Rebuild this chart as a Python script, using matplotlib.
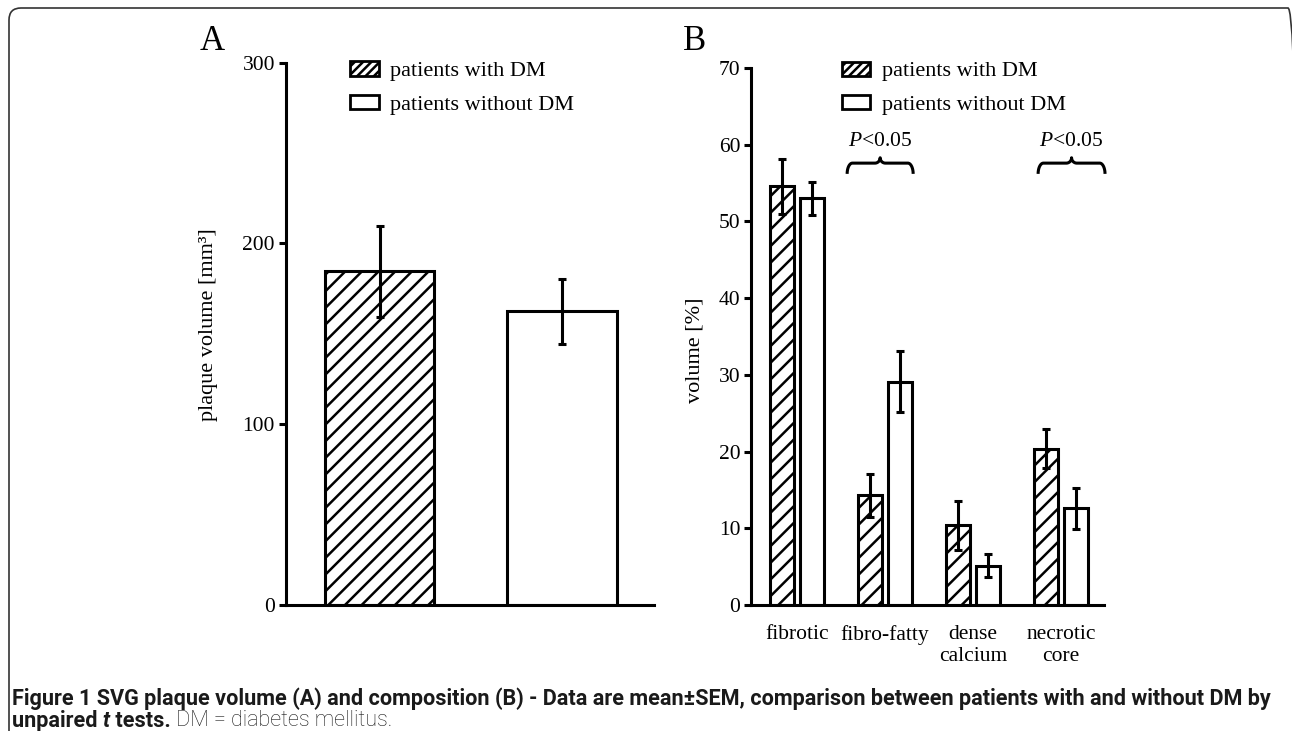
import numpy as np
import matplotlib
matplotlib.use("Agg")
import matplotlib.pyplot as plt
from matplotlib.patches import Patch, FancyBboxPatch

# Datos del panel A: volumen de placa (media y SEM)
vol_groups = ["patients with DM", "patients without DM"]
vol_mean = [184.5, 162.5]
vol_sem = [25.0, 18.0]

# Datos del panel B: composicion de la placa en %
comp_cats = ["fibrotic", "fibro-fatty", "dense\ncalcium", "necrotic\ncore"]
comp_dm = [54.6, 14.3, 10.4, 20.4]
comp_dm_sem = [3.6, 2.8, 3.2, 2.6]
comp_nodm = [53.0, 29.1, 5.1, 12.6]
comp_nodm_sem = [2.1, 4.0, 1.5, 2.7]

# llaves de significacion
brace_x0 = [0.57, 2.74]
brace_x1 = [1.32, 3.50]
brace_y = 57.6
brace_txt = ["$\\it{P}$<0.05", "$\\it{P}$<0.05"]

plt.rcParams['font.family'] = ['Liberation Serif', 'DejaVu Serif']
plt.rcParams['mathtext.fontset'] = 'custom'
plt.rcParams['mathtext.it'] = 'Liberation Serif:italic'
plt.rcParams['mathtext.rm'] = 'Liberation Serif'
plt.rcParams['hatch.linewidth'] = 1.8

LW = 2.2
fig = plt.figure(figsize=(12.92, 7.31), dpi=100)

def style_axes(ax):
    for s in ['top', 'right']:
        ax.spines[s].set_visible(False)
    for s in ['left', 'bottom']:
        ax.spines[s].set_linewidth(LW)
    ax.tick_params(axis='y', direction='out', length=5, width=LW, labelsize=15.5, pad=3)
    ax.tick_params(axis='x', length=0, labelsize=15.5, pad=14.5)

def brace(ax, x0, x1, y, h=1.4, tip=0.7):
    # llave horizontal dibujada con cuartos de circulo
    xm = (x0 + x1) / 2
    r = 0.06
    t = np.linspace(0, np.pi / 2, 20)
    xs, ys = [], []
    xs += list(x0 + r - r * np.cos(t)); ys += list(y - h + h * np.sin(t))
    xs += [xm - r]; ys += [y]
    xs += list(xm - r + r * np.sin(t)); ys += list(y + tip * (1 - np.cos(t)))
    xs += list(xm + r - r * np.cos(t)); ys += list(y + tip - tip * np.sin(t))
    xs += [x1 - r]; ys += [y]
    xs += list(x1 - r + r * np.sin(t)); ys += list(y - h * (1 - np.cos(t)))
    ax.plot(xs, ys, color='black', lw=LW, solid_capstyle='butt', clip_on=False)

# ---- Panel A ----
axA = fig.add_axes([286 / 1292, 1 - 605 / 731, 368 / 1292, 542.5 / 731])
xa = np.array([0, 1.674])
axA.bar(xa[0], vol_mean[0], width=1, facecolor='white', edgecolor='black',
        hatch='//', linewidth=LW, zorder=2)
axA.bar(xa[1], vol_mean[1], width=1, facecolor='white', edgecolor='black',
        linewidth=LW, zorder=2)
axA.errorbar(xa, vol_mean, yerr=vol_sem, fmt='none', ecolor='black',
             elinewidth=LW, capsize=3, capthick=LW, zorder=3)
axA.set_xlim(-0.858, 2.518)
axA.set_ylim(0, 300)
axA.set_yticks([0, 100, 200, 300])
axA.set_xticks([])
style_axes(axA)
axA.set_ylabel("plaque volume [mm³]", fontsize=16)
axA.yaxis.set_label_coords(-0.185, 0.516)

# ---- Panel B ----
axB = fig.add_axes([751.4 / 1292, 1 - 605 / 731, 352.2 / 1292, 537 / 731])
xb = np.arange(len(comp_cats))
off = 0.17
bw = 0.273
axB.bar(xb - off, comp_dm, width=bw, facecolor='white', edgecolor='black',
        hatch='//', linewidth=LW, zorder=2)
axB.bar(xb + off, comp_nodm, width=bw, facecolor='white', edgecolor='black',
        linewidth=LW, zorder=2)
axB.errorbar(xb - off, comp_dm, yerr=comp_dm_sem, fmt='none', ecolor='black',
             elinewidth=LW, capsize=3, capthick=LW, zorder=3)
axB.errorbar(xb + off, comp_nodm, yerr=comp_nodm_sem, fmt='none', ecolor='black',
             elinewidth=LW, capsize=3, capthick=LW, zorder=3)
axB.set_xlim(-0.518, 3.484)
axB.set_ylim(0, 70)
axB.set_yticks(range(0, 71, 10))
axB.set_xticks(xb)
axB.set_xticklabels(comp_cats)
style_axes(axB)
axB.set_ylabel("volume [%]", fontsize=16)
axB.yaxis.set_label_coords(-0.132, 0.475)

for x0, x1, txt in zip(brace_x0, brace_x1, brace_txt):
    brace(axB, x0, x1, brace_y)
    axB.text((x0 + x1) / 2, 60.4, txt, ha='center', va='center', fontsize=15.5)

# leyendas
handles = [Patch(facecolor='white', edgecolor='black', hatch='////', linewidth=2),
           Patch(facecolor='white', edgecolor='black', linewidth=2)]
for ax, bx, by in [(axA, 0.174, 1.002), (axB, 0.256, 1.012)]:
    ax.legend(handles, vol_groups, loc='upper left', bbox_to_anchor=(bx, by),
              frameon=False, fontsize=16, handlelength=1.3, handleheight=0.6,
              handletextpad=0.5, labelspacing=0.62, borderpad=0, borderaxespad=0)

# letras de los paneles
fig.text(212 / 1292, 1 - 42 / 731, "A", fontsize=25, ha='center', va='center')
fig.text(695 / 1292, 1 - 42 / 731, "B", fontsize=25, ha='center', va='center')

# marco redondeado
frame = FancyBboxPatch((0.09, -0.5), 12.91, 7.73,
                       boxstyle="round,pad=0,rounding_size=0.12",
                       transform=fig.dpi_scale_trans, facecolor='none',
                       edgecolor='#333333', linewidth=1.2)
fig.patches.append(frame)

# pie de figura
cap_font = ['Roboto', 'Open Sans', 'DejaVu Sans']
line1 = ("Figure 1 SVG plaque volume (A) and composition (B) - Data are mean±SEM, "
         "comparison between patients with and without DM by")
fig.canvas.draw()
r = fig.canvas.get_renderer()
probe = fig.text(0, 0, line1, fontsize=14, family=cap_font, weight='bold')
cap_size = 14 * 1262 / probe.get_window_extent(r).width
probe.remove()

def pieces(y, parts):
    x = 12
    for s, w, st in parts:
        t = fig.text(x / 1292, 1 - y / 731, s, fontsize=cap_size, family=cap_font,
                     weight=w, style=st, va='center', ha='left', color='#1a1a1a')
        x += t.get_window_extent(r).width

pieces(699, [(line1, 'bold', 'normal')])
pieces(721, [("unpaired ", 'bold', 'normal'), ("t", 'bold', 'italic'),
             (" tests.", 'bold', 'normal'), (" DM = diabetes mellitus.", 'light', 'normal')])

fig.savefig("out.png", dpi=100)
